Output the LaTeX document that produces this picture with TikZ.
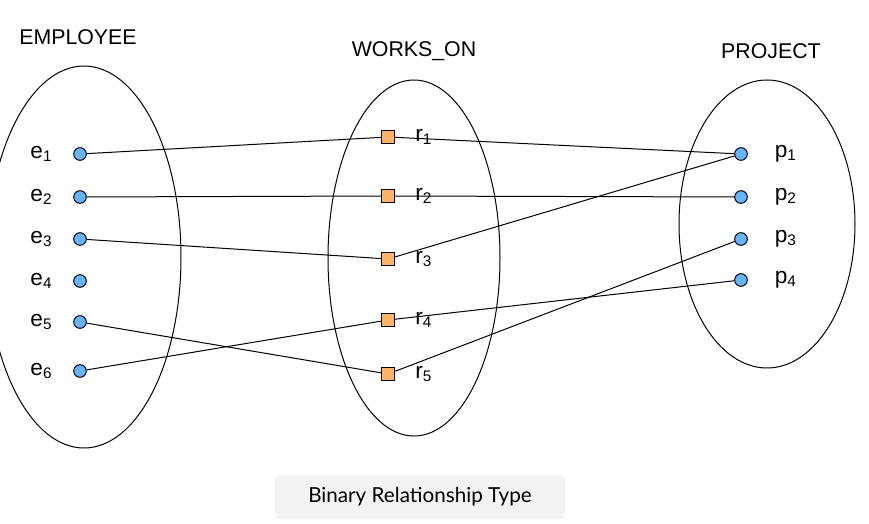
\documentclass[tikz,border=0pt]{standalone}
\usepackage{fontspec}
\setmainfont{Liberation Sans}
\newfontfamily\capfont{Lato}
\usetikzlibrary{positioning}
\definecolor{dotblue}{HTML}{66B3FF}
\definecolor{relorange}{HTML}{FFB366}
\definecolor{capgray}{HTML}{F3F3F3}
\newcommand{\idx}[2]{#1\raisebox{-0.2ex}{\fontsize{11.5}{11.5}\selectfont #2}}
\tikzset{
  setbox/.style={draw, line width=0.75pt},
  title/.style={font=\fontsize{16}{19}\selectfont},
  ent/.style={draw, line width=0.75pt, circle, fill=dotblue, inner sep=0pt, minimum size=9.5pt},
  rel/.style={draw, line width=0.75pt, fill=relorange, inner sep=0pt, minimum size=10pt},
  lbl/.style={font=\fontsize{17}{20}\selectfont, inner sep=0pt},
  link/.style={line width=0.75pt},
}
\begin{document}
\begin{tikzpicture}[x=0.75pt, y=-0.75pt]
    \useasboundingbox (0,0) rectangle (869,524);
    % the three sets
    \draw[setbox] (84,257) ellipse (97 and 191);
    \draw[setbox] (414,258) ellipse (86 and 178);
    \draw[setbox] (767,224) ellipse (88 and 144);
    \node[title] (empt) at (78,37) {EMPLOYEE};
    \node[title] (wot) at (414,51) {WORKS\_ON};
    \node[title] (prt) at (771,51) {PROJECT};
    % employees
    \foreach \i/\y in {1/154, 2/197, 3/239, 4/281, 5/322, 6/371} {
      \node[ent] (e\i) at (80,\y) {};
      \node[lbl, left=16pt of e\i] {\idx{e}{\i}};
    }
    % relationship instances
    \foreach \i/\y in {1/137, 2/196, 3/259, 4/320, 5/374} {
      \node[rel] (r\i) at (388,\y) {};
      \node[lbl, right=15pt of r\i] {\idx{r}{\i}};
    }
    % projects
    \foreach \i/\y in {1/154, 2/197, 3/239, 4/280} {
      \node[ent] (p\i) at (741,\y) {};
      \node[lbl, right=20pt of p\i] {\idx{p}{\i}};
    }
    \draw[link] (e1) -- (r1) -- (p1);
    \draw[link] (e2) -- (r2) -- (p2);
    \draw[link] (e3) -- (r3) -- (p1);
    \draw[link] (e6) -- (r4) -- (p4);
    \draw[link] (e5) -- (r5) -- (p3);
    % caption
    \node[fill=capgray, rounded corners=4pt, minimum width=218pt, minimum height=34pt,
      font=\capfont\fontsize{15.5}{18}\selectfont] (cap) at (420,497) {Binary Relationship Type};
\end{tikzpicture}
\end{document}
